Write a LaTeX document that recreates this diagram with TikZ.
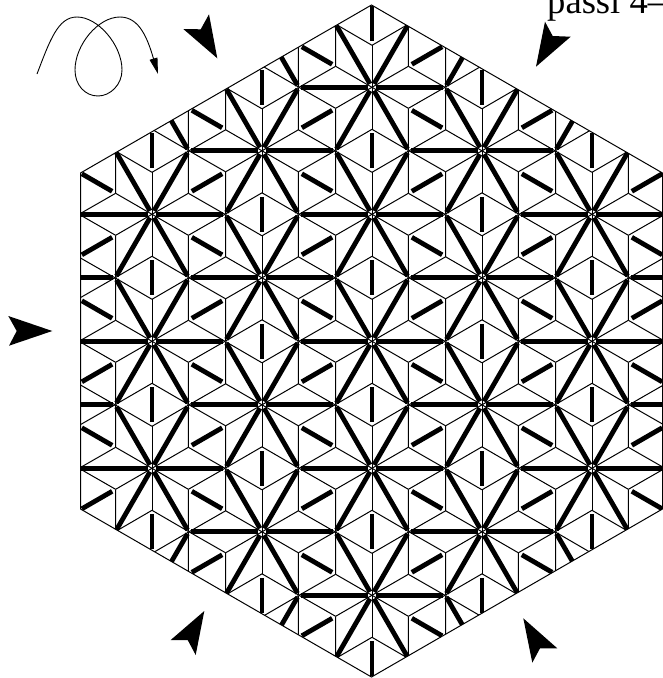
\documentclass[tikz,border=0pt]{standalone}
\usepackage{fontspec}
\setmainfont{Liberation Serif}
\usetikzlibrary{arrows.meta}
\newcommand{\hexpath}{(371.5,5) -- (662.5,173) -- (662.5,509) -- (371.5,677) -- (80.5,509) -- (80.5,173) -- cycle}
\begin{document}
\begin{tikzpicture}[x=1pt,y=-1pt,>=Latex]
\tikzset{
 fine/.style={line width=1pt,black},
 bar/.style={line width=4.8pt,black},
 head/.style={fill=black,draw=none}
}
\useasboundingbox (0,0) rectangle (663,678);
% lattice of stars, clipped to the hexagon
\begin{scope}
\clip \hexpath;
\foreach \m in {-3,...,3}{
 \foreach \n in {-4,...,4}{
  \pgfmathsetmacro{\sx}{372+\m*110}
  \pgfmathsetmacro{\sy}{341.3+\m*63.5+\n*127}
  \begin{scope}[shift={(\sx,\sy)}]
  \foreach \a in {30,90,...,330}{
   \draw[fine] (0,0) -- (\a:42);
   \draw[fine] (\a:42) -- (\a+30:73);
   \draw[fine] (\a:42) -- (\a-30:73);
   \draw[bar] (\a+30:4) -- (\a+30:71);
  }
  \foreach \a in {30,90,150}{
   \draw[bar] (\a:46) -- (\a:81);
  }
  \end{scope}
 }
}
\end{scope}
\draw[fine] \hexpath;
% arrow heads round the hexagon
\fill[head] (217.3,58.3) -- (183.3,29) -- (200.7,29.3) -- (209,14.3) -- cycle;
\fill[head] (536,66.7) -- (545,21.7) -- (552.7,36) -- (570.7,36.7) -- cycle;
\fill[head] (52.3,331) -- (8.3,316) -- (16.7,331) -- (9,345.7) -- cycle;
\fill[head] (204.3,611) -- (170.7,640) -- (187.7,640) -- (195.7,655) -- cycle;
\fill[head] (523.3,618.3) -- (557.3,648.3) -- (540,648.3) -- (532.3,662.7) -- cycle;
% curl
\draw[line width=.9pt,-{Triangle[length=16pt,width=8pt]}] (37,74) .. controls (50,40) and (58,17) .. (77,17)
 .. controls (98,17) and (122,45) .. (122,70) .. controls (122,85) and (110,96) .. (98,96)
 .. controls (85,96) and (75,85) .. (75,70) .. controls (75,45) and (98,17) .. (120,17)
 .. controls (140,17) and (148,40) .. (158,74);
\node[anchor=base west,inner sep=0pt,font=\fontsize{36.6pt}{36.6pt}\selectfont] (label) at (547,13.3) {passi 4--};
\end{tikzpicture}
\end{document}
